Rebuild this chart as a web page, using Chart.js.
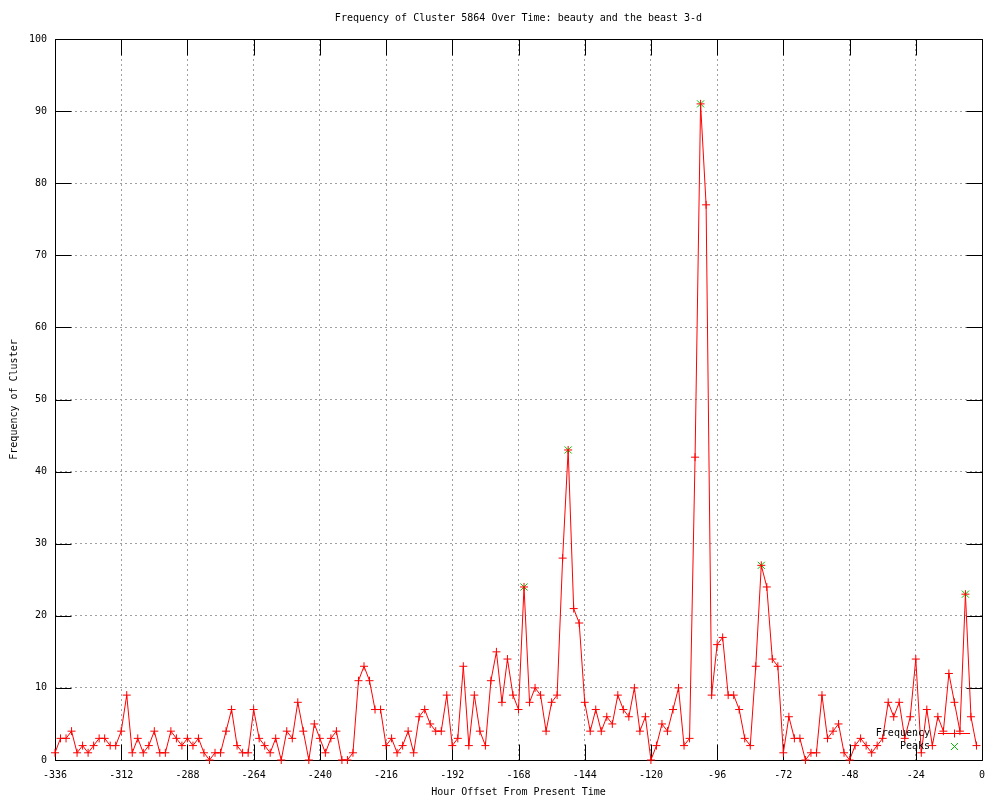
<!DOCTYPE html>
<html><head><meta charset="utf-8">
<script src="https://cdn.jsdelivr.net/npm/chart.js@4"></script>
<style>html,body{margin:0;padding:0;background:#fff}canvas{display:block}</style>
</head><body>
<canvas id="c" width="1000" height="800"></canvas>
<script>
const chartTitle = 'Frequency of Cluster 5864 Over Time: beauty and the beast 3-d';
const xTitle = 'Hour Offset From Present Time';
const yTitle = 'Frequency of Cluster';

const hours = [
-336,-334,-332,-330,-328,-326,-324,-322,-320,-318,-316,-314,
-312,-310,-308,-306,-304,-302,-300,-298,-296,-294,-292,-290,
-288,-286,-284,-282,-280,-278,-276,-274,-272,-270,-268,-266,
-264,-262,-260,-258,-256,-254,-252,-250,-248,-246,-244,-242,
-240,-238,-236,-234,-232,-230,-228,-226,-224,-222,-220,-218,
-216,-214,-212,-210,-208,-206,-204,-202,-200,-198,-196,-194,
-192,-190,-188,-186,-184,-182,-180,-178,-176,-174,-172,-170,
-168,-166,-164,-162,-160,-158,-156,-154,-152,-150,-148,-146,
-144,-142,-140,-138,-136,-134,-132,-130,-128,-126,-124,-122,
-120,-118,-116,-114,-112,-110,-108,-106,-104,-102,-100,-98,
-96,-94,-92,-90,-88,-86,-84,-82,-80,-78,-76,-74,
-72,-70,-68,-66,-64,-62,-60,-58,-56,-54,-52,-50,
-48,-46,-44,-42,-40,-38,-36,-34,-32,-30,-28,-26,
-24,-22,-20,-18,-16,-14,-12,-10,-8,-6,-4,-2
];
const frequency = [
1,3,3,4,1,2,1,2,3,3,2,2,
4,9,1,3,1,2,4,1,1,4,3,2,
3,2,3,1,0,1,1,4,7,2,1,1,
7,3,2,1,3,0,4,3,8,4,0,5,
3,1,3,4,0,0,1,11,13,11,7,7,
2,3,1,2,4,1,6,7,5,4,4,9,
2,3,13,2,9,4,2,11,15,8,14,9,
7,24,8,10,9,4,8,9,28,43,21,19,
8,4,7,4,6,5,9,7,6,10,4,6,
0,2,5,4,7,10,2,3,42,91,77,9,
16,17,9,9,7,3,2,13,27,24,14,13,
1,6,3,3,0,1,1,9,3,4,5,1,
0,2,3,2,1,2,3,8,6,8,3,6,
14,1,7,2,6,4,12,8,4,23,6,2
];
const peakHours = [-166, -150, -102, -80, -6];
const peakValues = [24, 43, 91, 27, 23];

const FONT = "'DejaVu Sans Mono', 'Liberation Mono', monospace";

function drawMarker(ctx, style, r, cx, cy) {
  ctx.beginPath();
  if (style === 'cross') {
    ctx.moveTo(cx - r, cy); ctx.lineTo(cx + r, cy);
    ctx.moveTo(cx, cy - r); ctx.lineTo(cx, cy + r);
  } else {
    const d = r * Math.SQRT1_2;
    ctx.moveTo(cx - d, cy - d); ctx.lineTo(cx + d, cy + d);
    ctx.moveTo(cx - d, cy + d); ctx.lineTo(cx + d, cy - d);
  }
  ctx.stroke();
}

const framePlugin = {
  id: 'frame',
  beforeDatasetsDraw(chart) {
    const {ctx, chartArea: a, scales: {x, y}} = chart;
    ctx.save();
    ctx.strokeStyle = '#000';
    ctx.lineWidth = 1;
    const L = Math.round(a.left) + 0.5, R = Math.round(a.right) + 0.5;
    const T = Math.round(a.top) + 0.5, B = Math.round(a.bottom) + 0.5;
    const len = 16;
    ctx.beginPath();
    ctx.rect(L, T, R - L, B - T);
    x.ticks.forEach((t, i) => {
      const px = Math.round(x.getPixelForTick(i)) + 0.5;
      ctx.moveTo(px, B); ctx.lineTo(px, B - len);
      ctx.moveTo(px, T); ctx.lineTo(px, T + len);
    });
    y.ticks.forEach((t, i) => {
      const py = Math.round(y.getPixelForTick(i)) + 0.5;
      ctx.moveTo(L, py); ctx.lineTo(L + len, py);
      ctx.moveTo(R, py); ctx.lineTo(R - len, py);
    });
    ctx.stroke();
    ctx.restore();
  }
};

const keyPlugin = {
  id: 'keyBox',
  afterDatasetsDraw(chart) {
    const {ctx, chartArea: a} = chart;
    ctx.save();
    ctx.font = '10px ' + FONT;
    ctx.textAlign = 'right';
    ctx.textBaseline = 'middle';
    chart.data.datasets.forEach((ds, i) => {
      const yy = Math.round(a.bottom - 27 + i * 13) + 0.5;
      ctx.fillStyle = '#000';
      ctx.fillText(ds.label, a.right - 52, yy);
      ctx.strokeStyle = ds.borderColor;
      ctx.lineWidth = 1;
      if (ds.showLine !== false) {
        ctx.beginPath();
        ctx.moveTo(Math.round(a.right - 44), yy);
        ctx.lineTo(Math.round(a.right - 12), yy);
        ctx.stroke();
      }
      drawMarker(ctx, ds.pointStyle, ds.pointStyle === 'cross' ? 4 : 5, Math.round(a.right - 28) + 0.5, yy);
    });
    ctx.restore();
  }
};

new Chart(document.getElementById('c'), {
  type: 'line',
  data: {
    datasets: [
      {
        label: 'Frequency',
        data: hours.map((h, i) => ({x: h, y: frequency[i]})),
        borderColor: '#ff0000',
        backgroundColor: '#ff0000',
        borderWidth: 1,
        pointStyle: 'cross',
        pointRadius: 4,
        pointHoverRadius: 4,
        pointBorderWidth: 1,
        pointBorderColor: '#ff0000',
        tension: 0,
        fill: false,
        clip: false
      },
      {
        label: 'Peaks',
        data: peakHours.map((h, i) => ({x: h, y: peakValues[i]})),
        showLine: false,
        borderColor: '#00c000',
        backgroundColor: '#00c000',
        pointStyle: 'crossRot',
        pointRadius: 5,
        pointHoverRadius: 5,
        pointBorderWidth: 1,
        pointBorderColor: '#00c000',
        clip: false
      }
    ]
  },
  options: {
    responsive: false,
    animation: false,
    devicePixelRatio: 1,
    events: [],
    layout: {padding: {left: 0, right: 18, top: 0, bottom: 0}},
    plugins: {
      legend: {display: false},
      tooltip: {enabled: false},
      title: {
        display: true,
        text: chartTitle,
        fullSize: false,
        color: '#000',
        font: {family: FONT, size: 10, weight: 'normal', lineHeight: 1.2},
        padding: {top: 12, bottom: 15}
      }
    },
    scales: {
      x: {
        type: 'linear',
        min: -336,
        max: 0,
        afterFit(s) { s.height = 40; },
        ticks: {stepSize: 24, color: '#000', font: {family: FONT, size: 10}, padding: 9, maxRotation: 0, autoSkip: false},
        grid: {color: '#a0a0a0', drawTicks: false, lineWidth: 1},
        border: {display: false, dash: [2, 3]},
        title: {display: true, text: xTitle, color: '#000', font: {family: FONT, size: 10, lineHeight: 1.2}, padding: {top: 0, bottom: 2}}
      },
      y: {
        min: 0,
        max: 100,
        afterFit(s) { s.width = 55; },
        ticks: {stepSize: 10, color: '#000', font: {family: FONT, size: 10}, padding: 8},
        grid: {color: '#a0a0a0', drawTicks: false, lineWidth: 1},
        border: {display: false, dash: [2, 3]},
        title: {display: true, text: yTitle, color: '#000', font: {family: FONT, size: 10, lineHeight: 1.2}, padding: {top: 8, bottom: 0}}
      }
    }
  },
  plugins: [framePlugin, keyPlugin]
});
</script>
</body></html>
